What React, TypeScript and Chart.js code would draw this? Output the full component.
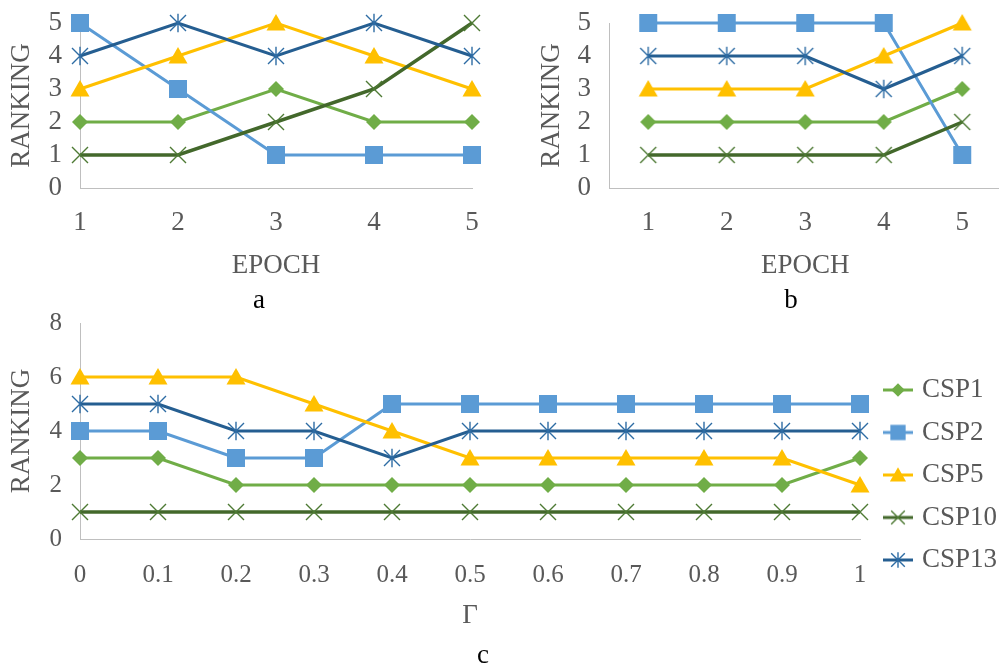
import React, { useEffect, useRef } from 'react';
import { Chart, registerables } from 'chart.js';
Chart.register(...registerables);

// ---------- data ----------
const epochLabels = ['1', '2', '3', '4', '5'];
const gammaLabels = ['0', '0.1', '0.2', '0.3', '0.4', '0.5', '0.6', '0.7', '0.8', '0.9', '1'];
const seriesNames = ['CSP1', 'CSP2', 'CSP5', 'CSP10', 'CSP13'];

const aCSP1 = [2, 2, 3, 2, 2];
const aCSP2 = [5, 3, 1, 1, 1];
const aCSP5 = [3, 4, 5, 4, 3];
const aCSP10 = [1, 1, 2, 3, 5];
const aCSP13 = [4, 5, 4, 5, 4];

const bCSP1 = [2, 2, 2, 2, 3];
const bCSP2 = [5, 5, 5, 5, 1];
const bCSP5 = [3, 3, 3, 4, 5];
const bCSP10 = [1, 1, 1, 1, 2];
const bCSP13 = [4, 4, 4, 3, 4];

const cCSP1 = [3, 3, 2, 2, 2, 2, 2, 2, 2, 2, 3];
const cCSP2 = [4, 4, 3, 3, 5, 5, 5, 5, 5, 5, 5];
const cCSP5 = [6, 6, 6, 5, 4, 3, 3, 3, 3, 3, 2];
const cCSP10 = [1, 1, 1, 1, 1, 1, 1, 1, 1, 1, 1];
const cCSP13 = [5, 5, 4, 4, 3, 4, 4, 4, 4, 4, 4];

// ---------- styles ----------
const FONT = "'Liberation Serif', 'Times New Roman', serif";
const TEXT = '#595959';
const AXIS = '#BFBFBF';
const COLORS = ['#70AD47', '#5B9BD5', '#FFC000', '#43682B', '#255E91'];
const MARKER_COLORS = ['#70AD47', '#5B9BD5', '#FFC000', '#4E7A34', '#2E6CA4'];
const MARKERS = ['diamond', 'square', 'triangle', 'x', 'asterisk'];
const LINE_W = [3, 3, 3, 3.5, 3];

function makeMarker(kind: string, color: string, withLine: boolean, lineColor: string) {
  const W = withLine ? 42 : 22;
  const H = 22;
  const c = document.createElement('canvas');
  c.width = W;
  c.height = H;
  const ctx = c.getContext('2d')!;
  const cx = withLine ? 27 : 11;
  const cy = 11;
  const k = withLine ? 0.85 : 1;
  if (withLine) {
    ctx.strokeStyle = lineColor;
    ctx.lineWidth = 3;
    ctx.beginPath();
    ctx.moveTo(12, cy);
    ctx.lineTo(42, cy);
    ctx.stroke();
  }
  ctx.fillStyle = color;
  ctx.strokeStyle = color;
  ctx.beginPath();
  if (kind === 'diamond') {
    const r = 8 * k;
    ctx.moveTo(cx, cy - r);
    ctx.lineTo(cx + r, cy);
    ctx.lineTo(cx, cy + r);
    ctx.lineTo(cx - r, cy);
    ctx.closePath();
    ctx.fill();
  } else if (kind === 'square') {
    const h = 9 * k;
    ctx.rect(cx - h, cy - h, 2 * h, 2 * h);
    ctx.fill();
  } else if (kind === 'triangle') {
    const hw = 9.5 * k;
    ctx.moveTo(cx, cy - 9 * k);
    ctx.lineTo(cx + hw, cy + 7.5 * k);
    ctx.lineTo(cx - hw, cy + 7.5 * k);
    ctx.closePath();
    ctx.fill();
  } else if (kind === 'x') {
    const r = 8 * k;
    ctx.lineWidth = 1.4;
    ctx.moveTo(cx - r, cy - r);
    ctx.lineTo(cx + r, cy + r);
    ctx.moveTo(cx + r, cy - r);
    ctx.lineTo(cx - r, cy + r);
    ctx.stroke();
  } else if (kind === 'asterisk') {
    const r = 8 * k;
    ctx.lineWidth = 1.4;
    ctx.moveTo(cx - r, cy - r);
    ctx.lineTo(cx + r, cy + r);
    ctx.moveTo(cx + r, cy - r);
    ctx.lineTo(cx - r, cy + r);
    ctx.moveTo(cx, cy - r * 1.15);
    ctx.lineTo(cx, cy + r * 1.15);
    ctx.stroke();
  }
  return c;
}

const captionPlugin = {
  id: 'caption',
  afterDraw(chart: any, _args: any, opts: any) {
    const ctx = chart.ctx;
    ctx.save();
    ctx.font = `27px ${FONT}`;
    ctx.fillStyle = '#000000';
    ctx.textAlign = 'center';
    ctx.textBaseline = 'alphabetic';
    ctx.fillText(opts.text, opts.x, opts.y);
    ctx.restore();
  },
};

function makeDatasets(series: number[][]) {
  return series.map((data, i) => ({
    label: seriesNames[i],
    data,
    borderColor: COLORS[i],
    backgroundColor: COLORS[i],
    borderWidth: LINE_W[i],
    pointStyle: makeMarker(MARKERS[i], MARKER_COLORS[i], false, COLORS[i]),
    pointRadius: 9,
    pointHoverRadius: 9,
    tension: 0,
    clip: false,
    order: series.length - i,
  }));
}

function yScale(max: number, step: number, width: number, titlePad: number, tickSize: number) {
  return {
    type: 'linear',
    min: 0,
    max,
    ticks: { stepSize: step, color: TEXT, font: { family: FONT, size: tickSize, lineHeight: 1 }, padding: 0 },
    grid: { display: false, drawTicks: true, tickLength: 18 },
    border: { display: true, color: AXIS, width: 1 },
    title: {
      display: true,
      text: 'RANKING',
      color: TEXT,
      font: { family: FONT, size: 27, lineHeight: 1.2 },
      padding: { top: titlePad, bottom: 0 },
    },
    afterFit: (s: any) => {
      s.width = width;
    },
  };
}

function xScale(offset: boolean, tickLen: number, height: number, text: string, tickSize: number) {
  return {
    type: 'category',
    offset,
    ticks: {
      color: TEXT,
      font: { family: FONT, size: tickSize, lineHeight: 1.2 },
      padding: 0,
      autoSkip: false,
      maxRotation: 0,
      minRotation: 0,
    },
    grid: { display: false, drawTicks: true, tickLength: tickLen },
    border: { display: true, color: AXIS, width: 1 },
    title: {
      display: true,
      text,
      color: TEXT,
      font: { family: FONT, size: 27, lineHeight: 1.2 },
      padding: { top: 0, bottom: 0 },
    },
    afterFit: (s: any) => {
      s.height = height;
    },
  };
}

function configA() {
  return {
    type: 'line',
    data: { labels: epochLabels, datasets: makeDatasets([aCSP1, aCSP2, aCSP5, aCSP10, aCSP13]) },
    options: {
      responsive: false,
      animation: false,
      devicePixelRatio: 1,
      events: [],
      layout: { padding: { top: 23, right: 28, bottom: 38, left: 0 } },
      scales: { x: xScale(false, 19, 94, 'EPOCH', 27), y: yScale(5, 1, 80, 6, 27) },
      plugins: {
        legend: { display: false },
        tooltip: { enabled: false },
        caption: { text: 'a', x: 259, y: 308 },
      },
    },
    plugins: [captionPlugin],
  };
}

function configB() {
  return {
    type: 'line',
    data: { labels: epochLabels, datasets: makeDatasets([bCSP1, bCSP2, bCSP5, bCSP10, bCSP13]) },
    options: {
      responsive: false,
      animation: false,
      devicePixelRatio: 1,
      events: [],
      layout: { padding: { top: 23, right: 0, bottom: 38, left: 0 } },
      scales: { x: xScale(true, 19, 94, 'EPOCH', 27), y: yScale(5, 1, 109, 36, 27) },
      plugins: {
        legend: { display: false },
        tooltip: { enabled: false },
        caption: { text: 'b', x: 291, y: 308 },
      },
    },
    plugins: [captionPlugin],
  };
}

function configC() {
  const legendIcons = MARKERS.map((m, i) => makeMarker(m, MARKER_COLORS[i], true, COLORS[i]));
  return {
    type: 'line',
    data: { labels: gammaLabels, datasets: makeDatasets([cCSP1, cCSP2, cCSP5, cCSP10, cCSP13]) },
    options: {
      responsive: false,
      animation: false,
      devicePixelRatio: 1,
      events: [],
      layout: { padding: { top: 13, right: 0, bottom: 34, left: 0 } },
      scales: { x: xScale(false, 21, 93, 'Γ', 25), y: yScale(8, 2, 80, 6, 25) },
      plugins: {
        tooltip: { enabled: false },
        legend: {
          display: true,
          position: 'right',
          align: 'start',
          maxWidth: 139,
          title: { display: true, text: ' ', font: { size: 10, lineHeight: 1 }, padding: { top: 28, bottom: 0 } },
          labels: {
            usePointStyle: true,
            pointStyleWidth: 33,
            padding: 15.5,
            color: TEXT,
            font: { family: FONT, size: 27, lineHeight: 1.2 },
            generateLabels: (chart: any) =>
              chart.data.datasets.map((ds: any, i: number) => ({
                text: ds.label,
                pointStyle: legendIcons[i],
                fillStyle: COLORS[i],
                strokeStyle: COLORS[i],
                lineWidth: 0,
                hidden: false,
                datasetIndex: i,
                fontColor: TEXT,
              })),
          },
        },
        caption: { text: 'c', x: 483, y: 353 },
      },
    },
    plugins: [captionPlugin],
  };
}

function ChartCanvas(props: { make: () => any; left: number; top: number; width: number; height: number }) {
  const ref = useRef<HTMLCanvasElement>(null);
  useEffect(() => {
    const chart = new Chart(ref.current as HTMLCanvasElement, props.make());
    return () => chart.destroy();
  }, []);
  return (
    <canvas
      ref={ref}
      width={props.width}
      height={props.height}
      style={{
        position: 'absolute',
        left: props.left,
        top: props.top,
        width: props.width,
        height: props.height,
      }}
    />
  );
}

export default function App() {
  return (
    <div
      style={{
        position: 'absolute',
        left: 0,
        top: 0,
        width: 999,
        height: 666,
        overflow: 'hidden',
        background: '#ffffff',
      }}
    >
      <ChartCanvas make={configA} left={0} top={0} width={500} height={320} />
      <ChartCanvas make={configB} left={500} top={0} width={514} height={320} />
      <ChartCanvas make={configC} left={0} top={310} width={999} height={356} />
    </div>
  );
}
